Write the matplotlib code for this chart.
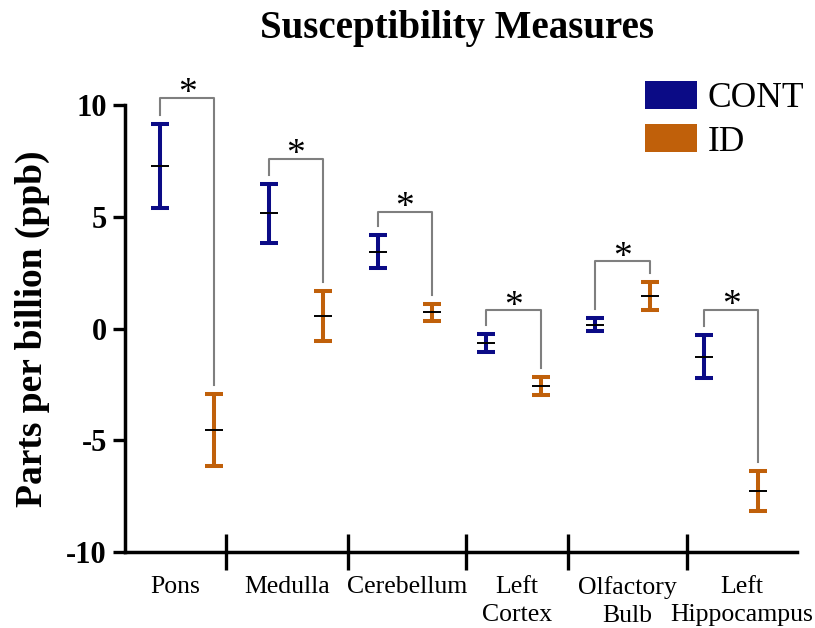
import matplotlib
matplotlib.use("Agg")
import matplotlib.pyplot as plt
from matplotlib.patches import Patch
import numpy as np

regions = ["Pons", "Medulla", "Cerebellum", "Left\nCortex", "Olfactory\nBulb", "Left\nHippocampus"]
cont_mean = [7.27, 5.15, 3.44, -0.66, 0.17, -1.26]
cont_err = [1.90, 1.33, 0.75, 0.41, 0.29, 0.97]
id_mean = [-4.56, 0.55, 0.72, -2.56, 1.45, -7.27]
id_err = [1.61, 1.12, 0.38, 0.41, 0.62, 0.91]
bracket_y = [10.33, 7.6, 5.22, 0.81, 3.0, 0.85]

CONT_COLOR = "#0b0b86"
ID_COLOR = "#c0600a"
BRACKET = "#7f7f7f"

plt.rcParams["font.family"] = ["Liberation Serif", "DejaVu Serif"]

fig = plt.figure(figsize=(8.15, 6.28), dpi=100)
ax = fig.add_axes([125 / 815, 1 - 552 / 628, 672 / 815, 447 / 628])

x_cont = np.arange(len(regions), dtype=float)
x_id = x_cont + 0.5

ax.axhline(0, color="#a9a9a9", lw=2.4, dashes=(0, 3.8), dash_capstyle="round", zorder=0)

for x, m, e, c in ((x_cont, cont_mean, cont_err, CONT_COLOR), (x_id, id_mean, id_err, ID_COLOR)):
    ax.errorbar(x, m, yerr=e, fmt="none", ecolor=c, elinewidth=2.9, capsize=6.5, capthick=2.9, zorder=3)
    ax.scatter(x, m, marker="_", s=160, color="black", linewidths=1.4, zorder=4)

# significance brackets
gap = 0.4
for xc, xi, cm, ce, im, ie, by in zip(x_cont, x_id, cont_mean, cont_err, id_mean, id_err, bracket_y):
    ax.plot([xc, xc, xi, xi], [cm + ce + gap, by, by, im + ie + gap],
            color=BRACKET, lw=1.5, clip_on=False, zorder=2)
    ax.text((xc + xi) / 2, by - 0.25, "*", ha="center", va="baseline", fontsize=27, clip_on=False)

ax.set_xlim(-0.322, 5.855)
ax.set_ylim(-10, 10)
ax.set_yticks([-10, -5, 0, 5, 10])
ax.set_yticklabels(["-10", "-5", "0", "5", "10"], fontsize=22, fontweight="bold")
ax.set_ylabel("Parts per billion (ppb)", fontsize=27, fontweight="bold", labelpad=12)

bounds = [-0.322, 0.607, 1.728, 2.813, 3.75, 4.844, 5.855]
centers = [(a + b) / 2 for a, b in zip(bounds[:-1], bounds[1:])]
ax.set_xticks(centers)
ax.set_xticklabels(regions, fontsize=18.5, linespacing=1.4)
ax.set_xticks(bounds[1:-1], minor=True)
ax.tick_params(axis="x", which="major", length=0, pad=17)
ax.tick_params(axis="x", which="minor", direction="inout", length=26, width=2.4)
ax.tick_params(axis="y", direction="out", length=9, width=2.4, pad=4)

for s in ("top", "right"):
    ax.spines[s].set_visible(False)
for s in ("left", "bottom"):
    ax.spines[s].set_linewidth(2.5)

fig.text(0.561, 1 - 38 / 628, "Susceptibility Measures", ha="center", va="baseline",
         fontsize=28, fontweight="bold")

handles = [Patch(facecolor=CONT_COLOR, label="CONT"), Patch(facecolor=ID_COLOR, label="ID")]
fig.legend(handles=handles, loc="upper left", bbox_to_anchor=(645 / 815, 1 - 81 / 628),
           frameon=False, fontsize=25.5, handlelength=1.47, handleheight=0.85,
           handletextpad=0.3, labelspacing=0.25, borderpad=0, borderaxespad=0)

fig.savefig("out.png", dpi=100)
